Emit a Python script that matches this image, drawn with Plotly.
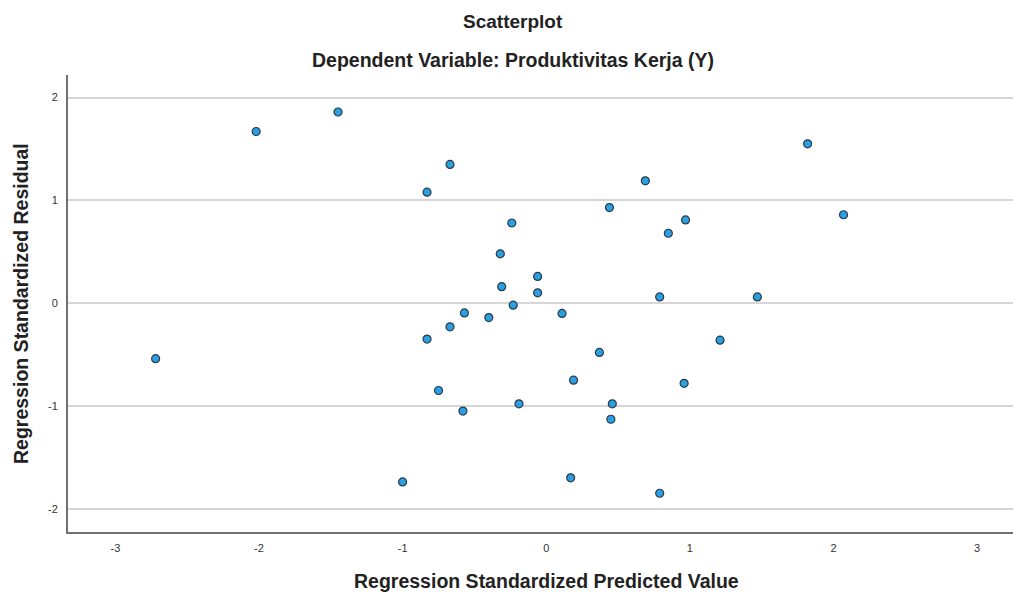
import plotly.graph_objects as go

# Regression standardized predicted value (x) and residual (y)
pred = [-2.72, -2.02, -1.45, -0.83, -0.67, -0.24, 0.44, 0.69, 0.97, 0.85,
        1.82, 2.07, 1.47, 0.79, -0.32, -0.31, -0.06, -0.06, -0.23, -0.57,
        -0.40, 0.11, -0.67, -0.83, 0.37, 0.19, -0.75, -0.58, -0.19, 0.46,
        0.45, 1.21, 0.96, 0.79, -1.00, 0.17]
resid = [-0.54, 1.67, 1.86, 1.08, 1.35, 0.78, 0.93, 1.19, 0.81, 0.68,
         1.55, 0.86, 0.06, 0.06, 0.48, 0.16, 0.26, 0.10, -0.02, -0.095,
         -0.14, -0.10, -0.23, -0.35, -0.48, -0.75, -0.85, -1.05, -0.98, -0.98,
         -1.13, -0.36, -0.78, -1.85, -1.74, -1.70]

x_ticks = [-3, -2, -1, 0, 1, 2, 3]
y_ticks = [-2, -1, 0, 1, 2]

font = "Liberation Sans, Arial, sans-serif"

fig = go.Figure()
fig.add_trace(go.Scatter(
    x=pred, y=resid, mode="markers",
    marker=dict(size=8, color="#2a9fe2", line=dict(color="#2b3a48", width=1.2)),
    showlegend=False, hoverinfo="x+y",
))

fig.update_layout(
    width=1013, height=593,
    margin=dict(l=68, r=0, t=75, b=61),
    paper_bgcolor="white", plot_bgcolor="white",
    font=dict(family=font, color="#333333"),
    xaxis=dict(range=[-3.33, 3.25], tickvals=x_ticks, ticktext=[str(v) for v in x_ticks],
               showgrid=False, zeroline=False, showline=True, linecolor="#707070", linewidth=2,
               ticks="", tickfont=dict(size=11, color="#333333"), ticklabelstandoff=5),
    yaxis=dict(range=[-2.227, 2.22], tickvals=y_ticks, ticktext=[str(v) for v in y_ticks],
               showgrid=True, gridcolor="#d6d6d6", gridwidth=1.5, zeroline=False,
               showline=True, linecolor="#707070", linewidth=2,
               ticks="", tickfont=dict(size=11, color="#333333"), ticklabelstandoff=6),
    annotations=[
        dict(text="<b>Scatterplot</b>", x=513, y=22,
             showarrow=False, font=dict(size=19, color="#222222")),
        dict(text="<b>Dependent Variable: Produktivitas Kerja (Y)</b>", x=513, y=60,
             showarrow=False, font=dict(size=19.5, color="#222222")),
        dict(text="<b>Regression Standardized Predicted Value</b>", x=546, y=581,
             showarrow=False, font=dict(size=19.5, color="#222222")),
        dict(text="<b>Regression Standardized Residual</b>", x=21, y=304, textangle=-90,
             showarrow=False, font=dict(size=19.5, color="#222222")),
    ],
)

# convert pixel positions of annotations into paper coordinates
pl, pr, pt, pb = 68, 1013, 75, 532
anns = []
for a in fig.layout.annotations:
    a = a.to_plotly_json()
    a["xref"] = "paper"
    a["yref"] = "paper"
    a["x"] = (a["x"] - pl) / (pr - pl)
    a["y"] = (pb - a["y"]) / (pb - pt)
    a["xanchor"] = "center"
    a["yanchor"] = "middle"
    anns.append(a)
fig.layout.annotations = anns

fig.write_html("out.html", config={"displayModeBar": False},
               post_script="document.body.style.margin='0';")
